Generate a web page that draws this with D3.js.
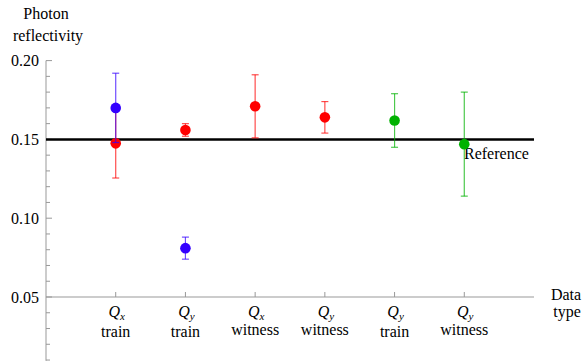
<!DOCTYPE html>
<html>
<head>
<meta charset="utf-8">
<script src="https://d3js.org/d3.v7.min.js"></script>
</head>
<body style="margin:0">
<div id="chart"></div>
<script>
// categories along the x axis
var qLabels = ["x", "y", "x", "y", "y", "y"];
var kindLabels = ["train", "train", "witness", "witness", "train", "witness"];

// measured points: category index, value, error, colour group
var blueX = [1, 2];
var blueVal = [0.170, 0.081];
var blueErr = [0.022, 0.007];

var redX = [1, 2, 3, 4];
var redVal = [0.1475, 0.156, 0.171, 0.164];
var redErr = [0.022, 0.004, 0.020, 0.010];

var greenX = [5, 6];
var greenVal = [0.162, 0.147];
var greenErr = [0.017, 0.033];

var referenceValue = 0.15;
var yTicks = [0.05, 0.10, 0.15, 0.20];

var width = 583, height = 361;

var svg = d3.select("#chart").append("svg")
    .attr("width", width)
    .attr("height", height);

var x = d3.scaleLinear().domain([0, 7]).range([46, 534]);
var y = d3.scaleLinear().domain([0.05, 0.20]).range([297, 60.6]);
var yBottom = 0.0095;

function label(sel, size) {
  return sel.attr("font-family", "Liberation Serif").attr("font-size", size);
}

// y axis
var yAxisG = svg.append("g").attr("transform", "translate(46,0)");
yAxisG.append("line")
    .attr("x1", 0).attr("x2", 0)
    .attr("y1", y(0.20)).attr("y2", y(yBottom))
    .attr("stroke", "#999");
var minor = d3.range(1, 21).map(function(d) { return d / 100; })
    .filter(function(d) { return d >= yBottom; });
yAxisG.selectAll(".ytick").data(minor).enter().append("line")
    .attr("x1", 0)
    .attr("x2", function(d) { return Math.round(d * 100) % 5 === 0 ? 6 : 4; })
    .attr("y1", function(d) { return y(d); })
    .attr("y2", function(d) { return y(d); })
    .attr("stroke", "#999");
label(yAxisG.selectAll(".ylab").data(yTicks).enter().append("text"), 16)
    .attr("x", -7)
    .attr("y", function(d) { return y(d); })
    .attr("dy", "0.35em")
    .attr("text-anchor", "end")
    .text(function(d) { return d3.format(".2f")(d); });

// x axis
var xAxisG = svg.append("g").attr("transform", "translate(0," + y(0.05) + ")");
xAxisG.append("line")
    .attr("x1", x(0)).attr("x2", x(7))
    .attr("y1", 0).attr("y2", 0)
    .attr("stroke", "#999");
var cats = d3.range(1, 7);
xAxisG.selectAll(".xtick").data(cats).enter().append("line")
    .attr("x1", function(d) { return x(d); })
    .attr("x2", function(d) { return x(d); })
    .attr("y1", 0).attr("y2", -5)
    .attr("stroke", "#999");
var q = label(xAxisG.selectAll(".qlab").data(cats).enter().append("text"), 16)
    .attr("x", function(d) { return x(d) + 1; })
    .attr("y", 20)
    .attr("text-anchor", "middle");
q.append("tspan").attr("font-style", "italic").text("Q");
q.append("tspan").attr("font-style", "italic").attr("font-size", 11)
    .attr("dy", 3)
    .text(function(d) { return qLabels[d - 1]; });
label(xAxisG.selectAll(".klab").data(cats).enter().append("text"), 16)
    .attr("x", function(d) { return x(d); })
    .attr("y", function(d) { return kindLabels[d - 1] === "witness" ? 38 : 40; })
    .attr("text-anchor", "middle")
    .text(function(d) { return kindLabels[d - 1]; });

// axis titles
label(svg.append("text"), 16).attr("x", 46).attr("y", 19).attr("text-anchor", "middle").text("Photon");
label(svg.append("text"), 16).attr("x", 48).attr("y", 41).attr("text-anchor", "middle").text("reflectivity");
label(svg.append("text"), 16).attr("x", 566).attr("y", 300).attr("text-anchor", "middle").text("Data");
label(svg.append("text"), 16).attr("x", 567).attr("y", 317).attr("text-anchor", "middle").text("type");

// reference line
svg.append("line")
    .attr("x1", x(0)).attr("x2", x(7))
    .attr("y1", y(referenceValue)).attr("y2", y(referenceValue))
    .attr("stroke", "#000")
    .attr("stroke-width", 2.5);
label(svg.append("text"), 16)
    .attr("x", 464).attr("y", y(referenceValue) + 20)
    .text("Reference");

function drawSeries(xs, vals, errs, color) {
  var data = xs.map(function(d, i) { return { x: d, v: vals[i], e: errs[i] }; });
  var g = svg.append("g");
  var bars = g.selectAll("g").data(data).enter().append("g")
      .attr("stroke", color)
      .attr("stroke-opacity", 0.7)
      .attr("stroke-width", 1.2);
  bars.append("line")
      .attr("x1", function(d) { return x(d.x); })
      .attr("x2", function(d) { return x(d.x); })
      .attr("y1", function(d) { return y(d.v + d.e); })
      .attr("y2", function(d) { return y(d.v - d.e); });
  [1, -1].forEach(function(s) {
    bars.append("line")
        .attr("x1", function(d) { return x(d.x) - 3.5; })
        .attr("x2", function(d) { return x(d.x) + 3.5; })
        .attr("y1", function(d) { return y(d.v + s * d.e); })
        .attr("y2", function(d) { return y(d.v + s * d.e); });
  });
  g.selectAll("circle").data(data).enter().append("circle")
      .attr("cx", function(d) { return x(d.x); })
      .attr("cy", function(d) { return y(d.v); })
      .attr("r", 5.3)
      .attr("fill", color);
}

drawSeries(redX, redVal, redErr, "#ff0000");
drawSeries(blueX, blueVal, blueErr, "#3300ff");
drawSeries(greenX, greenVal, greenErr, "#00b200");
</script>
</body>
</html>
